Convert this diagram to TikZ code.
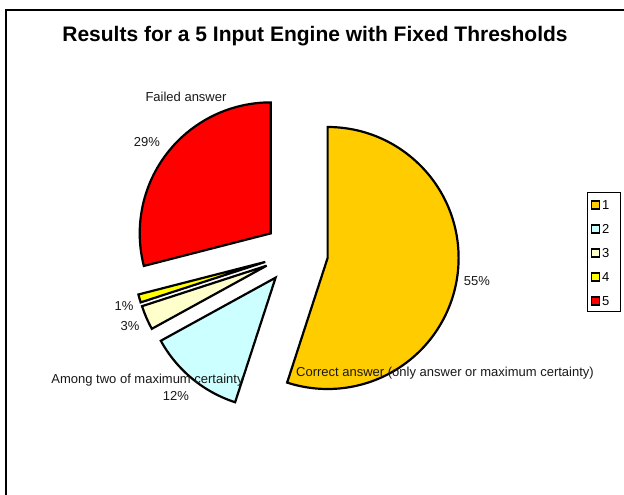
\documentclass[tikz,border=0pt]{standalone}
\usepackage{fontspec}
\setmainfont{Liberation Sans}
\usetikzlibrary{calc}
\definecolor{sliceA}{HTML}{FFCC00}
\definecolor{sliceB}{HTML}{CCFFFF}
\definecolor{sliceC}{HTML}{FFFFCC}
\definecolor{sliceD}{HTML}{FFFF00}
\definecolor{sliceE}{HTML}{FF0000}
\tikzset{
  wedge/.style={draw=black, line width=2.2pt, line join=miter},
  lbl/.style={inner sep=0pt, font=\fontsize{13}{15}\selectfont, text=black!90},
  keybox/.style={draw=black, line width=1.6pt, minimum size=8pt, inner sep=0pt},
  keytxt/.style={inner sep=0pt, anchor=west, font=\fontsize{13}{15}\selectfont},
}
% draws one exploded wedge: colour, start angle, end angle
\newcommand{\pieWedge}[3]{%
  \pgfmathsetmacro{\wmid}{(#2+#3)/2}%
  \draw[wedge, fill=#1] ($(ctr)+(\wmid:32)$) -- ++(#2:131)
    arc[start angle=#2, end angle=#3, radius=131] -- cycle;}
\begin{document}
\begin{tikzpicture}[x=1pt, y=1pt]
\useasboundingbox (0,0) rectangle (624,495);
\fill[white] (0,0) rectangle (624,495);
% chart frame (top and left edges)
\draw[line width=2pt] (6,0) -- (6,485) -- (624,485);
% title
\node[inner sep=0pt, font=\bfseries\fontsize{21}{24}\selectfont] (title) at (315,459)
  {Results for a 5 Input Engine with Fixed Thresholds};
% pie wedges, clockwise from twelve o'clock
\coordinate (ctr) at (296,242);
\pieWedge{sliceA}{90}{-108}
\pieWedge{sliceB}{-108}{-151.2}
\pieWedge{sliceC}{-151.2}{-162}
\pieWedge{sliceD}{-162}{-165.6}
\pieWedge{sliceE}{-165.6}{-270}
% data labels
\node[lbl] (failed) at (186,398) {Failed answer};
\node[lbl] (p29) at (147,353) {29\%};
\node[lbl] (p55) at (477,214) {55\%};
\node[lbl] (p1) at (124,189) {1\%};
\node[lbl] (p3) at (130,169) {3\%};
\node[lbl] (among) at (147.5,115) {Among two of maximum certainty};
\node[lbl] (p12) at (176,99) {12\%};
\node[lbl] (correct) at (445,122) {Correct answer (only answer or maximum certainty)};
% legend
\draw[line width=1pt] (587,183) rectangle (620,302);
\node[keybox, fill=sliceA] (k1) at (595.5,290) {};
\node[keybox, fill=sliceB] (k2) at (595.5,266) {};
\node[keybox, fill=sliceC] (k3) at (595.5,242) {};
\node[keybox, fill=sliceD] (k4) at (595.5,218) {};
\node[keybox, fill=sliceE] (k5) at (595.5,194) {};
\node[keytxt] (t1) at (602,290) {1};
\node[keytxt] (t2) at (602,266) {2};
\node[keytxt] (t3) at (602,242) {3};
\node[keytxt] (t4) at (602,218) {4};
\node[keytxt] (t5) at (602,194) {5};
\end{tikzpicture}
\end{document}
